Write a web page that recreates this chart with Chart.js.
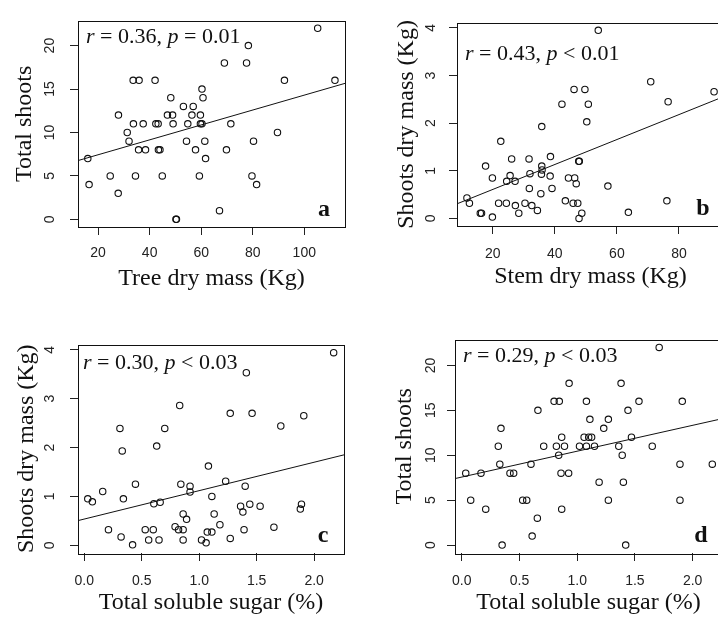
<!DOCTYPE html>
<html>
<head>
<meta charset="utf-8">
<script src="https://cdn.jsdelivr.net/npm/chart.js@4.4.1/dist/chart.umd.min.js"></script>
<style>
  html, body { margin: 0; padding: 0; background: #fff; overflow: hidden; }
  #wrap { position: relative; width: 718px; height: 619px; overflow: hidden; }
  canvas { position: absolute; }
</style>
</head>
<body>
<div id="wrap">
  <canvas id="chartA" width="359" height="310" style="left:0;top:0"></canvas>
  <canvas id="chartB" width="360" height="310" style="left:380px;top:0"></canvas>
  <canvas id="chartC" width="359" height="299" style="left:0;top:320px"></canvas>
  <canvas id="chartD" width="360" height="299" style="left:380px;top:320px"></canvas>
</div>
<script>
// panel a: tree dry mass vs total shoots
var treeMass = [105.2, 78.3, 69, 77.6, 33.6, 35.9, 42.1, 92.3, 111.9, 60.3, 60.7, 48.2, 53.1, 56.9, 27.9, 46.9, 48.9, 56.4, 59.7,
    33.7, 37.5, 42.4, 43.3, 49.1, 54.8, 59.7, 60.3, 71.5, 31.3, 89.6, 32, 54.3, 61.4, 80.3, 35.7, 38.4, 43.4, 44, 57.8, 69.8,
    16, 61.7, 24.7, 34.5, 44.9, 59.3, 79.7, 16.5, 81.5, 27.8, 50.2, 50.4, 67.1];
var shootsA = [22, 20, 18, 18, 16, 16, 16, 16, 16, 15, 14, 14, 13, 13, 12, 12, 12, 12, 12,
    11, 11, 11, 11, 11, 11, 11, 11, 11, 10, 10, 9, 9, 9, 9, 8, 8, 8, 8, 8, 8,
    7, 7, 5, 5, 5, 5, 5, 4, 4, 3, 0, 0, 1];

// panel b: stem dry mass vs shoots dry mass
var stemMass = [54.0, 70.9, 91.3, 76.5, 46.2, 49.7, 42.3, 50.8, 50.3, 35.8, 22.6, 38.6, 26.1, 31.7, 47.7, 47.9, 17.7, 35.8,
    35.9, 35.7, 19.9, 25.6, 24.5, 27.2, 32.0, 38.5, 44.4, 46.4, 46.9, 31.8, 39.1, 57.1, 35.5, 11.7, 12.5, 21.9, 24.4,
    27.3, 30.4, 32.6, 43.4, 45.9, 47.4, 76.1, 28.4, 34.4, 16.0, 16.4, 19.9, 48.7, 47.8, 63.7];
var shootMassB = [3.95, 2.87, 2.66, 2.45, 2.71, 2.71, 2.4, 2.4, 2.03, 1.93, 1.62, 1.3, 1.25, 1.25, 1.2, 1.2, 1.1, 1.1,
    1.02, 0.93, 0.85, 0.9, 0.78, 0.78, 0.94, 0.89, 0.85, 0.85, 0.73, 0.63, 0.63, 0.68, 0.52, 0.43, 0.32, 0.32, 0.32,
    0.27, 0.32, 0.27, 0.37, 0.32, 0.32, 0.37, 0.11, 0.17, 0.11, 0.11, 0.03, 0.11, 0.0, 0.13];

// panel c: soluble sugar vs shoots dry mass
var sugarC = [2.17, 1.41, 0.83, 1.27, 1.46, 1.91, 0.31, 0.70, 1.71, 0.63, 0.33, 1.08, 1.23, 0.445, 0.84, 0.92, 0.92, 1.40,
    0.16, 0.03, 0.07, 0.34, 1.11, 0.605, 0.66, 1.36, 1.44, 1.53, 1.38, 1.89, 1.88, 0.86, 0.89, 1.13, 1.18, 0.21, 0.53,
    0.60, 0.79, 0.82, 0.86, 1.39, 1.65, 1.07, 1.11, 0.32, 0.56, 0.65, 0.86, 1.02, 1.27, 0.42, 1.06];
var shootMassC = [3.94, 3.53, 2.86, 2.70, 2.70, 2.65, 2.39, 2.39, 2.44, 2.03, 1.93, 1.62, 1.31, 1.25, 1.25, 1.21, 1.09, 1.21,
    1.10, 0.95, 0.89, 0.95, 1.0, 0.85, 0.88, 0.80, 0.84, 0.80, 0.68, 0.84, 0.74, 0.64, 0.53, 0.64, 0.42, 0.32, 0.32,
    0.32, 0.38, 0.32, 0.32, 0.32, 0.37, 0.27, 0.27, 0.17, 0.11, 0.11, 0.11, 0.11, 0.14, 0.01, 0.05];

// panel d: soluble sugar vs total shoots
var sugarD = [1.71, 0.93, 1.38, 0.80, 0.845, 1.08, 1.535, 1.91, 0.66, 1.44, 1.11, 1.27, 0.34, 1.23, 0.866, 1.06, 1.10, 1.125,
    1.47, 0.317, 0.71, 0.82, 0.89, 1.02, 1.08, 1.15, 1.36, 1.65, 0.84, 1.39, 0.035, 0.167, 0.33, 0.60, 1.89, 2.17,
    0.418, 0.45, 0.86, 0.926, 1.19, 1.40, 0.078, 0.528, 0.563, 1.27, 1.89, 0.208, 0.866, 0.655, 0.61, 0.35, 1.42];
var shootsD = [22, 18, 18, 16, 16, 16, 16, 16, 15, 15, 14, 14, 13, 13, 12, 12, 12, 12,
    12, 11, 11, 11, 11, 11, 11, 11, 11, 11, 10, 10, 8, 8, 9, 9, 9, 9,
    8, 8, 8, 8, 7, 7, 5, 5, 5, 5, 5, 4, 4, 3, 1, 0, 0];

// fitted lines (intercept, slope)
var fitA = [5.72, 0.0858];
var fitB = [0.085, 0.0262];
var fitC = [0.537, 0.581];
var fitD = [7.57, 2.88];

var statR = ['0.36', '0.43', '0.30', '0.29'];
var statP = ['= 0.01', '< 0.01', '< 0.03', '< 0.03'];
var panelLetters = ['a', 'b', 'c', 'd'];

var ticksMass = [20, 40, 60, 80, 100];
var ticksStem = [20, 40, 60, 80];
var ticksSugar = [0, 0.5, 1, 1.5, 2];
var ticksShoots = [0, 5, 10, 15, 20];
var ticksDryMass = [0, 1, 2, 3, 4];

var SERIF = '"Liberation Serif", "DejaVu Serif", serif';
var SANS = '"Liberation Sans", Arial, sans-serif';

// box round the plot, r/p text and the panel letter
var panelDecor = {
    id: 'panelDecor',
    afterDraw: function(chart, args, opts) {
        var ctx = chart.ctx;
        var area = chart.chartArea;
        ctx.save();
        ctx.strokeStyle = '#111';
        ctx.lineWidth = 1;
        ctx.strokeRect(Math.round(area.left) + 0.5, Math.round(area.top) + 0.5,
            Math.round(area.right - area.left), Math.round(area.bottom - area.top));
        ctx.fillStyle = '#111';
        ctx.textAlign = 'left';
        ctx.textBaseline = 'alphabetic';
        var parts = [['r', true], [' = ' + opts.r + ', ', false], ['p', true], [' ' + opts.p, false]];
        var x = area.left + opts.statX;
        var y = area.top + opts.statY;
        parts.forEach(function(part) {
            ctx.font = (part[1] ? 'italic ' : '') + '22px ' + SERIF;
            ctx.fillText(part[0], x, y);
            x += ctx.measureText(part[0]).width;
        });
        ctx.font = 'bold 24px ' + SERIF;
        ctx.textAlign = 'center';
        ctx.fillText(opts.letter, area.right - 21, area.bottom - 11);
        ctx.restore();
    }
};

function makePanel(id, p) {
    var points = p.xs.map(function(v, i) { return {x: v, y: p.ys[i]}; });
    var line = [
        {x: p.xMin, y: p.fit[0] + p.fit[1] * p.xMin},
        {x: p.xMax, y: p.fit[0] + p.fit[1] * p.xMax}
    ];
    var ctx = document.getElementById(id).getContext('2d');
    return new Chart(ctx, {
        type: 'scatter',
        plugins: [panelDecor],
        data: {
            datasets: [{
                data: points,
                pointStyle: 'circle',
                pointRadius: 3.2,
                pointBorderWidth: 1.1,
                borderColor: '#111',
                backgroundColor: 'rgba(0,0,0,0)',
                pointHoverRadius: 3.2
            }, {
                data: line,
                showLine: true,
                borderColor: '#111',
                borderWidth: 1,
                pointRadius: 0,
                fill: false
            }]
        },
        options: {
            responsive: false,
            animation: false,
            devicePixelRatio: 1,
            events: [],
            layout: { padding: p.pad },
            plugins: {
                legend: { display: false },
                tooltip: { enabled: false },
                panelDecor: { r: p.r, p: p.p, letter: p.letter, statX: p.statX, statY: p.statY }
            },
            scales: {
                x: {
                    type: 'linear',
                    min: p.xMin,
                    max: p.xMax,
                    afterBuildTicks: function(s) { s.ticks = p.xTicks.map(function(v) { return {value: v}; }); },
                    afterFit: function(s) { s.height = p.xH; },
                    grid: { drawOnChartArea: false, drawTicks: true, tickLength: 8, color: '#222' },
                    border: { display: false },
                    ticks: {
                        autoSkip: false, maxRotation: 0, padding: p.xTickPad, color: '#222',
                        font: { family: SANS, size: 14 },
                        callback: function(v) { return p.xFmt ? v.toFixed(1) : String(v); }
                    },
                    title: {
                        display: true, text: p.xTitle, color: '#111',
                        font: { family: SERIF, size: 24 },
                        padding: { top: 0, bottom: p.xTitlePad }
                    }
                },
                y: {
                    type: 'linear',
                    min: p.yMin,
                    max: p.yMax,
                    afterBuildTicks: function(s) { s.ticks = p.yTicks.map(function(v) { return {value: v}; }); },
                    afterFit: function(s) { s.width = p.yW; },
                    grid: { drawOnChartArea: false, drawTicks: true, tickLength: 8, color: '#222' },
                    border: { display: false },
                    ticks: {
                        autoSkip: false, minRotation: 90, maxRotation: 90, crossAlign: 'center',
                        padding: p.yTickPad, color: '#222',
                        font: { family: SANS, size: 14 }
                    },
                    title: {
                        display: true, text: p.yTitle, color: '#111',
                        font: { family: SERIF, size: 24 },
                        padding: { top: p.yTitlePad, bottom: 0 }
                    }
                }
            }
        }
    });
}

makePanel('chartA', {
    xs: treeMass, ys: shootsA, fit: fitA,
    xMin: 12.2, xMax: 115.8, yMin: -0.88, yMax: 22.88,
    xTicks: ticksMass, yTicks: ticksShoots, xFmt: false,
    xTitle: 'Tree dry mass (Kg)', yTitle: 'Total shoots',
    pad: { left: 0, top: 13, right: 14, bottom: 0 }, xH: 83, yW: 78,
    xTickPad: 9.6, xTitlePad: 16.6, yTickPad: 12.2, yTitlePad: 10.6,
    r: statR[0], p: statP[0], letter: panelLetters[0], statX: 8, statY: 22
});

makePanel('chartB', {
    xs: stemMass, ys: shootMassB, fit: fitB,
    xMin: 8.5, xMax: 94.5, yMin: -0.158, yMax: 4.108,
    xTicks: ticksStem, yTicks: ticksDryMass, xFmt: false,
    xTitle: 'Stem dry mass (Kg)', yTitle: 'Shoots dry mass (Kg)',
    pad: { left: 0, top: 13, right: 16, bottom: 0 }, xH: 84, yW: 77,
    xTickPad: 11.6, xTitlePad: 18.6, yTickPad: 14.4, yTitlePad: 12.3,
    r: statR[1], p: statP[1], letter: panelLetters[1], statX: 8, statY: 37
});

makePanel('chartC', {
    xs: sugarC, ys: shootMassC, fit: fitC,
    xMin: -0.055, xMax: 2.26, yMin: -0.158, yMax: 4.108,
    xTicks: ticksSugar, yTicks: ticksDryMass, xFmt: true,
    xTitle: 'Total soluble sugar (%)', yTitle: 'Shoots dry mass (Kg)',
    pad: { left: 0, top: 19, right: 15, bottom: 0 }, xH: 66, yW: 78,
    xTickPad: 11.3, xTitlePad: 1.6, yTickPad: 16.1, yTitlePad: 12.3,
    r: statR[2], p: statP[2], letter: panelLetters[2], statX: 5, statY: 24
});

makePanel('chartD', {
    xs: sugarD, ys: shootsD, fit: fitD,
    xMin: -0.058, xMax: 2.254, yMin: -0.88, yMax: 22.88,
    xTicks: ticksSugar, yTicks: ticksShoots, xFmt: true,
    xTitle: 'Total soluble sugar (%)', yTitle: 'Total shoots',
    pad: { left: 0, top: 19.5, right: 18, bottom: 0 }, xH: 66, yW: 75,
    xTickPad: 12, xTitlePad: 1.6, yTickPad: 8.5, yTitlePad: 10.6,
    r: statR[3], p: statP[3], letter: panelLetters[3], statX: 8, statY: 22
});
</script>
</body>
</html>
